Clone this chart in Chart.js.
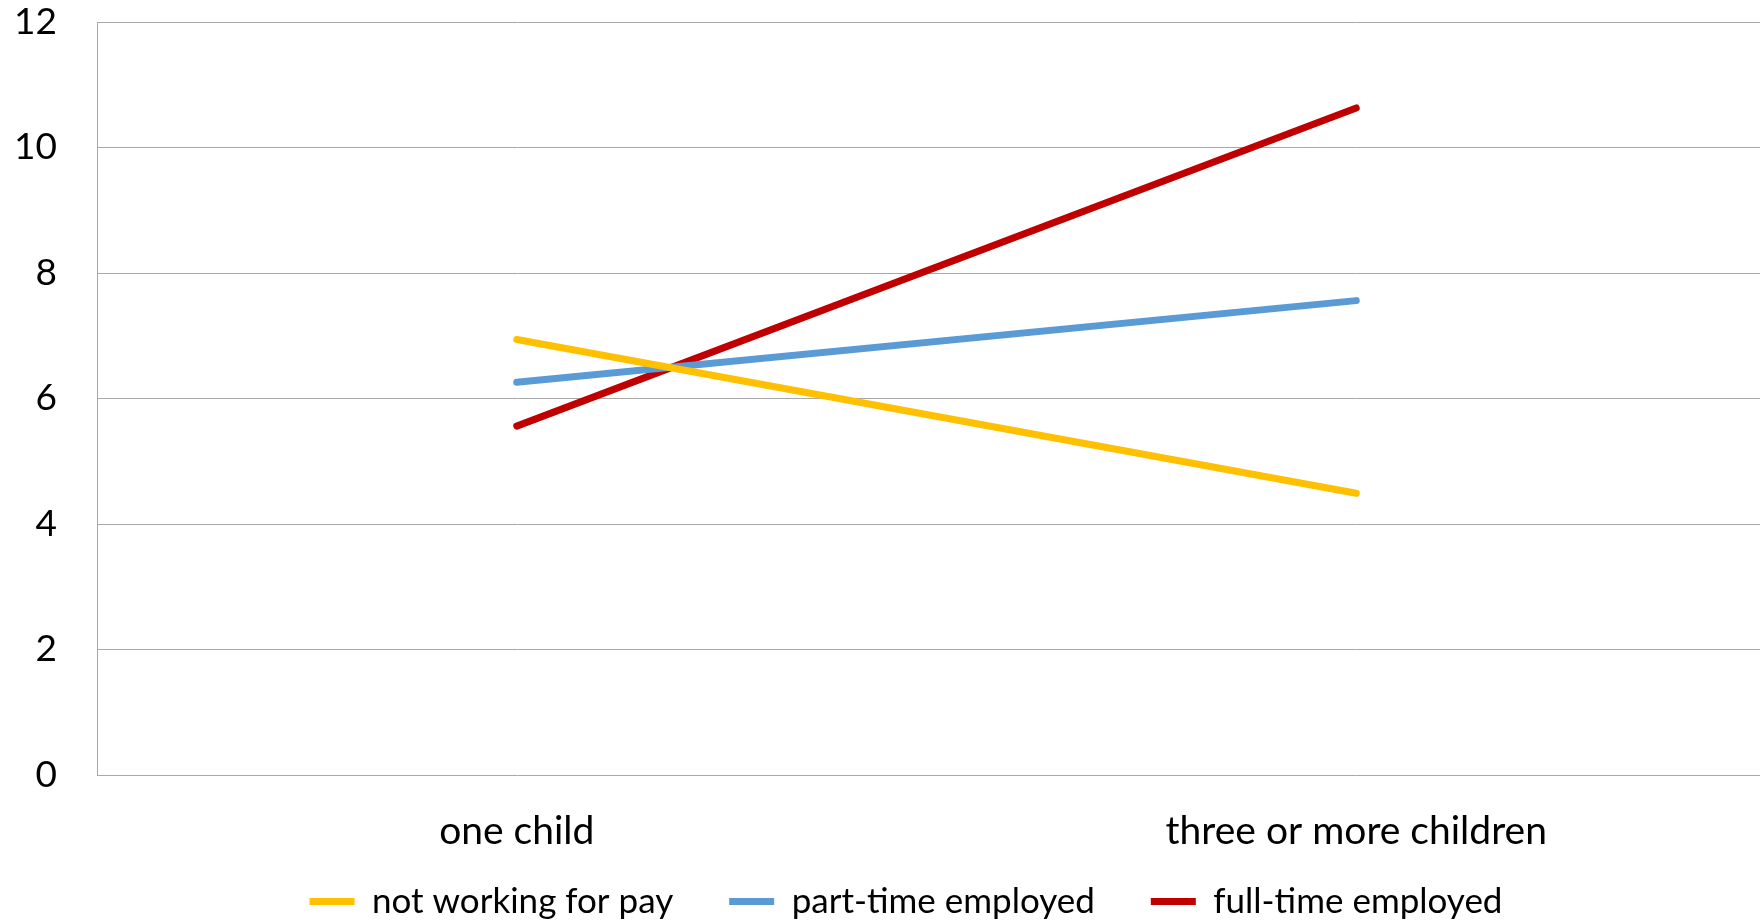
<!DOCTYPE html>
<html>
<head>
<meta charset="utf-8">
<script src="https://cdn.jsdelivr.net/npm/chart.js@4"></script>
<style>
  html, body { margin: 0; padding: 0; background: #fff; overflow: hidden; }
  #wrap { width: 1760px; height: 920px; overflow: hidden; }
  #wrap canvas { display: block; }
</style>
</head>
<body>
<div id="wrap">
  <canvas id="LineChart" width="1776" height="920" style="width:1776px;height:920px"></canvas>
</div>
<script>
const categories = ["one child", "three or more children"];
const notWorking = [6.94, 4.49];
const partTime = [6.26, 7.56];
const fullTime = [5.56, 10.63];
const yTicks = [0, 2, 4, 6, 8, 10, 12];

const fontFamily = "Lato, 'Open Sans', sans-serif";
const gridColor = "#a8a8a8";

const makeSeries = (label, values, color) => ({
  label: label,
  data: values,
  borderColor: color,
  backgroundColor: color,
  borderWidth: 7,
  borderCapStyle: "round",
  pointRadius: 0,
  pointHoverRadius: 0,
  tension: 0,
  fill: false,
});

// legend: wide gaps between items but a short box that overlaps the x labels' space
const legendBox = {
  id: "legendBox",
  beforeInit(chart) {
    const fit = chart.legend.fit;
    chart.legend.fit = function () {
      fit.call(this);
      this.height = 63;
    };
  },
  afterLayout(chart) {
    const lg = chart.legend;
    lg.top = 828;
    lg.bottom = 920;
    lg.height = 92;
    lg.left += 18;
    lg.right += 18;
  },
};

const ctx = document.getElementById("LineChart").getContext("2d");

new Chart(ctx, {
  type: "line",
  data: {
    labels: categories,
    datasets: [
      makeSeries("not working for pay", notWorking, "#ffc000"),
      makeSeries("part-time employed", partTime, "#5b9bd5"),
      makeSeries("full-time employed", fullTime, "#c00000"),
    ],
  },
  options: {
    responsive: false,
    animation: false,
    layout: {
      padding: 0,
    },
    plugins: {
      tooltip: { enabled: false },
      legend: {
        position: "bottom",
        labels: {
          usePointStyle: true,
          pointStyle: "line",
          pointStyleWidth: 45,
          boxHeight: 7,
          padding: 56,
          color: "#000",
          font: { family: fontFamily, size: 35 },
        },
      },
    },
    scales: {
      x: {
        offset: true,
        grid: { display: false, drawTicks: false },
        border: { display: false },
        ticks: {
          color: "#000",
          padding: 33,
          font: { family: fontFamily, size: 39 },
        },
        afterFit: (axis) => {
          axis.height = 82;
        },
      },
      y: {
        min: 0,
        max: 12,
        afterBuildTicks: (axis) => {
          axis.ticks = yTicks.map((v) => ({ value: v }));
        },
        grid: { color: gridColor, lineWidth: 1, drawTicks: false },
        border: { display: true, color: gridColor, width: 1 },
        ticks: {
          color: "#000",
          padding: 40,
          font: { family: fontFamily, size: 37 },
        },
        afterFit: (axis) => {
          axis.width = 97;
          axis.paddingTop = 22;
          axis.paddingBottom = 0;
        },
      },
    },
  },
  plugins: [legendBox],
});
</script>
</body>
</html>
